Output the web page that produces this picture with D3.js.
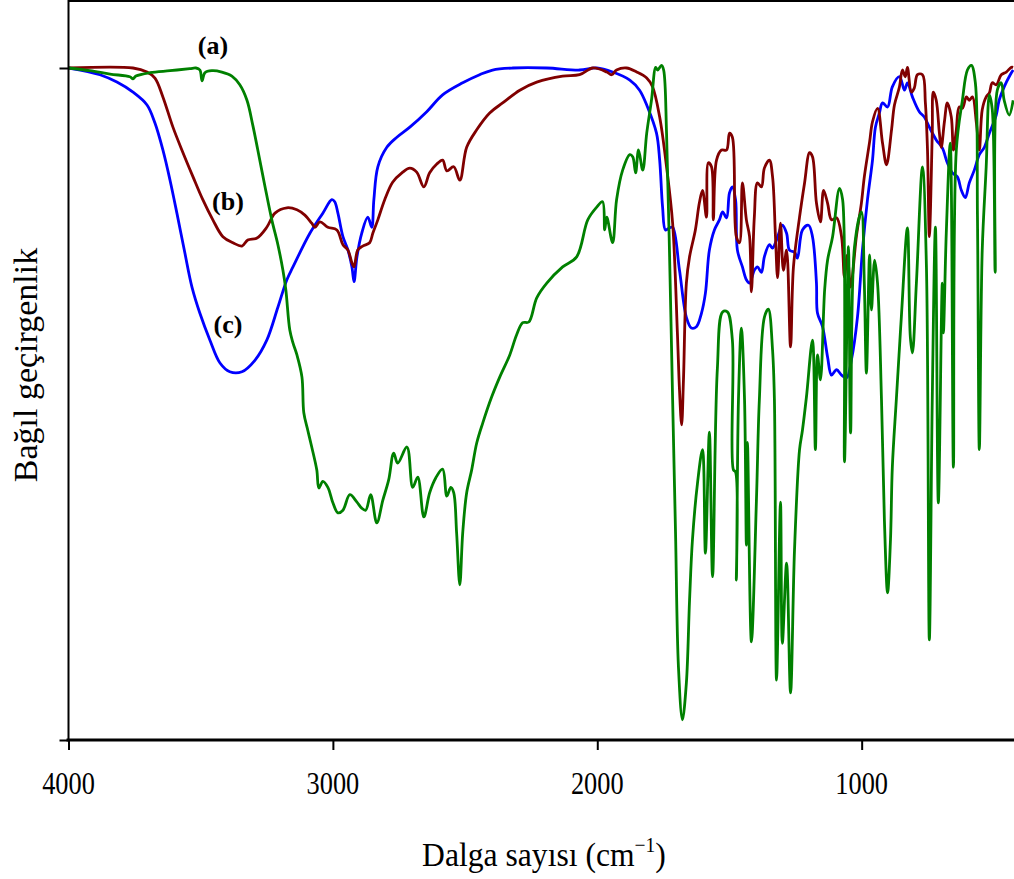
<!DOCTYPE html>
<html>
<head>
<meta charset="utf-8">
<script src="https://cdn.jsdelivr.net/npm/d3@7"></script>
<style>
  body { margin: 0; background: #fff; }
  svg { display: block; }
  text { font-family: "Liberation Serif", "Times New Roman", serif; fill: #000; }
</style>
</head>
<body>
<svg id="chart" width="1014" height="879"></svg>
<script>
// wavenumber (cm-1), relative transmittance (0 = bottom axis, 100 = top tick)
const seriesA = [
  [4000,100],[3919,99.6],[3843,99.1],[3768,98.7],[3756,98.4],[3745,98.8],[3692,99.3],[3616,99.6],
  [3541,99.9],[3518,100],[3503,99.7],[3495,98.1],[3484,99.3],[3458,99.6],[3420,99.4],[3382,98.8],
  [3352,97.5],[3325,95.2],[3303,91.5],[3284,87.8],[3258,82.6],[3231,77.4],[3208,73.7],[3189,69.9],
  [3178,67.0],[3163,61.0],[3151,59.1],[3136,57.3],[3117,54.0],[3110,48.7],[3095,46.1],[3080,43.6],
  [3061,40.2],[3053,37.5],[3038,38.5],[3019,37.6],[3000,35.3],[2981,33.8],[2962,34.2],[2936,36.5],
  [2909,35.4],[2891,34.5],[2876,34.2],[2857,36.5],[2834,32.3],[2811,35.7],[2789,38.7],[2770,42.7],
  [2755,41.2],[2720,43.6],[2698,37.6],[2679,39.1],[2656,33.2],[2634,36.8],[2611,39.0],[2585,40.3],
  [2569,36.3],[2554,37.6],[2543,36.8],[2532,30.8],[2520,23.1],[2509,30.8],[2494,36.8],[2475,40.2],
  [2456,44.2],[2433,47.2],[2400,51.0],[2369,54.0],[2331,57.3],[2305,60.3],[2282,62.1],[2259,62.2],
  [2229,65.8],[2191,68.0],[2131,70.4],[2078,71.9],[2036,77.4],[2002,79.3],[1980,80.1],[1972,75.9],
  [1964,77.8],[1942,74.0],[1927,80.4],[1904,84.8],[1877,87.1],[1866,86.8],[1855,84.4],[1844,87.8],
  [1828,84.8],[1813,90.3],[1795,95.2],[1779,100.1],[1772,99.7],[1757,100.4],[1749,99.7],[1738,90.3],
  [1727,72.9],[1715,50.6],[1704,30.8],[1693,10.9],[1678,3.0],[1663,8.5],[1651,20.8],[1640,29.8],
  [1621,38.2],[1602,43.2],[1591,27.8],[1576,45.8],[1564,24.3],[1546,55.1],[1526,63.7],[1508,63.7],
  [1489,59.5],[1485,40.2],[1477,39.9],[1474,23.8],[1466,50.6],[1455,61.3],[1443,50.6],[1436,29.0],
  [1432,44.3],[1417,14.6],[1398,35.7],[1387,50.6],[1368,62.9],[1353,64.1],[1337,58.0],[1330,50.6],
  [1322,8.9],[1307,35.4],[1300,14.4],[1284,26.3],[1269,7.0],[1254,28.3],[1235,43.2],[1224,46.1],
  [1209,51.0],[1186,59.5],[1175,43.2],[1167,57.3],[1156,53.6],[1140,67.0],[1129,71.4],[1110,74.9],
  [1084,82.1],[1072,80.4],[1065,41.4],[1050,73.4],[1042,45.7],[1027,73.4],[1001,78.6],[990,68.0],
  [982,54.6],[970,72.2],[963,64.0],[951,71.4],[940,68.0],[925,50.6],[914,32.7],[902,21.9],
  [891,29.8],[884,40.6],[869,50.6],[850,62.9],[827,76.2],[816,60.0],[808,57.6],[793,68.0],
  [770,85.3],[755,70.4],[744,14.9],[733,50.6],[721,76.3],[710,35.3],[695,68.0],[691,60.6],
  [680,75.4],[665,88.8],[653,40.6],[642,87.8],[619,95.2],[600,99.7],[585,100.4],[570,97.8],
  [562,77.8],[555,43.2],[544,72.9],[529,85.3],[517,96.0],[506,93.8],[495,69.6],[487,96.7],
  [472,97.8],[461,95.2],[442,93.0],[427,95.2]
];

const seriesB = [
  [4000,100],[3756,100],[3703,99.4],[3673,98.5],[3643,95.7],[3605,91.2],[3567,87.4],[3529,83.8],
  [3492,80.4],[3454,77.4],[3416,74.9],[3378,74.0],[3344,73.5],[3322,74.4],[3287,74.7],[3250,76.3],
  [3219,78.4],[3174,79.2],[3136,78.9],[3106,78.1],[3080,76.9],[3068,76.3],[3049,77.1],[3019,76.3],
  [2985,75.9],[2962,73.7],[2943,72.9],[2928,71.0],[2920,70.4],[2906,72.9],[2887,73.5],[2861,74.0],
  [2849,75.4],[2830,77.4],[2804,80.4],[2774,83.0],[2739,84.4],[2709,85.1],[2683,84.5],[2656,82.3],
  [2634,84.4],[2607,85.7],[2585,86.3],[2569,84.7],[2543,85.3],[2520,83.3],[2494,88.2],[2456,90.8],
  [2407,93.3],[2358,94.8],[2293,96.7],[2229,97.9],[2131,98.8],[2067,99.0],[2017,100],[1964,99.4],
  [1946,99.0],[1927,99.7],[1889,100],[1851,99.4],[1813,98.5],[1791,97.2],[1764,92.7],[1738,85.3],
  [1715,76.9],[1697,60.6],[1689,52.1],[1681,46.9],[1674,53.6],[1663,68.0],[1651,71.9],[1629,75.9],
  [1614,79.9],[1602,81.8],[1587,77.8],[1580,85.9],[1568,85.3],[1561,77.4],[1549,86.3],[1530,87.8],
  [1511,87.8],[1500,90.3],[1489,89.7],[1474,74.9],[1462,74.0],[1451,82.9],[1436,77.4],[1424,74.9],
  [1417,66.7],[1406,77.8],[1394,82.9],[1379,82.3],[1368,85.1],[1349,86.3],[1337,83.8],[1326,74.9],
  [1318,68.8],[1307,76.9],[1296,69.9],[1284,72.9],[1269,58.5],[1258,70.4],[1235,77.8],[1216,82.9],
  [1197,87.4],[1186,86.8],[1171,79.9],[1156,77.1],[1144,81.8],[1129,79.9],[1114,77.4],[1095,77.7],
  [1076,74.9],[1065,68.9],[1054,72.2],[1042,67.4],[1020,74.9],[1001,79.9],[990,83.8],[970,89.0],
  [959,92.0],[940,94.0],[921,88.8],[906,85.6],[887,90.8],[876,94.5],[857,97.2],[846,99.7],
  [835,98.7],[827,100.1],[812,96.4],[801,97.0],[789,99.0],[770,99.0],[759,94.8],[751,87.8],
  [744,74.9],[733,90.3],[729,96.4],[718,95.2],[706,90.3],[699,88.2],[687,92.0],[676,94.8],
  [661,92.7],[653,87.8],[642,90.8],[631,94.2],[619,94.0],[604,95.7],[593,95.2],[581,95.7],
  [566,91.8],[555,87.8],[544,93.8],[529,95.7],[517,96.3],[506,97.8],[491,97.5],[472,99.0],
  [453,99.4],[434,100.1],[427,100.1]
];

const seriesC = [
  [4000,100],[3881,99.0],[3817,97.9],[3756,96.4],[3703,94.5],[3673,91.8],[3643,87.8],[3616,83.3],
  [3590,78.4],[3560,72.5],[3533,67.4],[3503,63.5],[3465,59.5],[3427,56.1],[3390,54.8],[3344,54.8],
  [3295,56.5],[3250,59.5],[3208,64.4],[3174,68.5],[3151,70.4],[3087,75.4],[3038,78.4],[3004,80.4],
  [2993,80.1],[2981,78.4],[2962,74.9],[2943,72.9],[2928,70.4],[2920,68.2],[2909,71.9],[2891,75.4],
  [2868,77.8],[2853,76.3],[2845,80.4],[2830,85.3],[2796,88.2],[2758,89.7],[2709,91.2],[2645,93.5],
  [2585,96.0],[2509,97.8],[2445,99.0],[2396,99.7],[2320,100],[2191,100],[2067,99.7],[2002,100],
  [1942,99.4],[1877,98.2],[1840,96.7],[1810,94.2],[1776,90.3],[1764,86.3],[1753,79.3],[1742,75.9],
  [1727,76.2],[1715,76.3],[1689,69.9],[1663,62.9],[1644,61.3],[1625,61.5],[1606,63.5],[1591,66.5],
  [1576,72.9],[1557,75.9],[1538,77.4],[1526,78.6],[1511,77.7],[1500,81.4],[1489,82.3],[1477,80.4],
  [1470,72.9],[1451,70.4],[1436,68.5],[1424,68.0],[1406,69.9],[1394,70.4],[1379,69.6],[1368,71.9],
  [1349,73.7],[1337,73.2],[1322,74.4],[1300,76.6],[1284,75.4],[1273,72.9],[1254,72.6],[1243,71.7],
  [1224,75.9],[1201,76.6],[1186,74.9],[1171,68.0],[1167,63.5],[1148,61.5],[1129,57.0],[1114,54.3],
  [1095,55.1],[1076,54.3],[1057,53.9],[1039,56.5],[1016,62.9],[997,72.9],[978,80.4],[959,86.3],
  [948,91.2],[933,93.3],[921,94.8],[902,94.2],[884,97.2],[857,98.7],[838,96.7],[827,97.8],
  [808,95.7],[782,93.5],[763,92.7],[744,91.2],[718,89.3],[695,88.1],[676,85.9],[657,84.4],
  [638,83.8],[623,81.8],[608,80.7],[593,82.9],[574,84.8],[555,87.1],[536,88.2],[517,90.3],
  [491,93.0],[480,95.2],[461,97.2],[438,99.0],[427,99.7]
];

const xTicks = [4000, 3000, 2000, 1000];
const curveLabels = ["(a)", "(b)", "(c)"];
const curveColours = ["#008000", "#800000", "#0000ff"];

const svg = d3.select("#chart");
const plotLeft = 68.5, plotBottom = 740, plotTop = 68;

const x = d3.scaleLinear().domain([4000, 400]).range([plotLeft, 1020.3]);
const y = d3.scaleLinear().domain([0, 100]).range([plotBottom, plotTop]);

// curves: (c) blue, then (b) red, then (a) green on top
const line = d3.line()
  .x(d => x(d[0]))
  .y(d => y(d[1]))
  .curve(d3.curveCatmullRom.alpha(0.5));
[[seriesC, 2], [seriesB, 1], [seriesA, 0]].forEach(([data, i]) => {
  svg.append("path")
    .datum(data)
    .attr("fill", "none")
    .attr("stroke", curveColours[i])
    .attr("stroke-width", 2.8)
    .attr("stroke-linejoin", "round")
    .attr("d", line);
});

// x axis
const xAxis = svg.append("g")
  .attr("transform", `translate(0,${plotBottom})`)
  .call(d3.axisBottom(x).tickValues(xTicks).tickSize(10).tickSizeOuter(0).tickFormat(d3.format("d")));
xAxis.select(".domain").remove();
xAxis.selectAll(".tick line").attr("stroke", "#000").attr("stroke-width", 2);
xAxis.selectAll(".tick text").remove();
xTicks.forEach(t => {
  svg.append("text")
    .attr("transform", `translate(${x(t)},794) scale(0.85,1)`)
    .attr("text-anchor", "middle")
    .style("font-size", "31px")
    .text(t);
});
svg.append("line")
  .attr("x1", plotLeft - 2).attr("x2", 1014)
  .attr("y1", plotBottom).attr("y2", plotBottom)
  .attr("stroke", "#000").attr("stroke-width", 3);

// y axis (no labels)
const yAxis = svg.append("g")
  .attr("transform", `translate(${plotLeft},0)`)
  .call(d3.axisLeft(y).tickValues([0, 100]).tickSize(9).tickFormat(""));
yAxis.select(".domain").remove();
yAxis.selectAll(".tick line").attr("stroke", "#000").attr("stroke-width", 2);
svg.append("line")
  .attr("x1", plotLeft).attr("x2", plotLeft)
  .attr("y1", 0).attr("y2", plotBottom)
  .attr("stroke", "#000").attr("stroke-width", 2);
svg.append("line")
  .attr("x1", plotLeft).attr("x2", 1014)
  .attr("y1", 1).attr("y2", 1)
  .attr("stroke", "#000").attr("stroke-width", 2);

// axis titles
const xt = svg.append("text")
  .attr("transform", "translate(544,866) scale(0.93,1)")
  .attr("text-anchor", "middle")
  .style("font-size", "34px");
xt.append("tspan").text("Dalga sayısı (cm");
xt.append("tspan").attr("dy", -14).style("font-size", "21px").text("\u22121");
xt.append("tspan").attr("dy", 14).text(")");

svg.append("text")
  .attr("transform", "translate(37,365) rotate(-90)")
  .attr("text-anchor", "middle")
  .style("font-size", "34px")
  .text("Bağıl geçirgenlik");

// curve labels
const labelPos = [[213, 54], [228, 210], [228, 333]];
curveLabels.forEach((t, i) => {
  svg.append("text")
    .attr("x", labelPos[i][0]).attr("y", labelPos[i][1])
    .attr("text-anchor", "middle")
    .style("font-size", "26px")
    .style("font-weight", "bold")
    .text(t);
});
</script>
</body>
</html>
